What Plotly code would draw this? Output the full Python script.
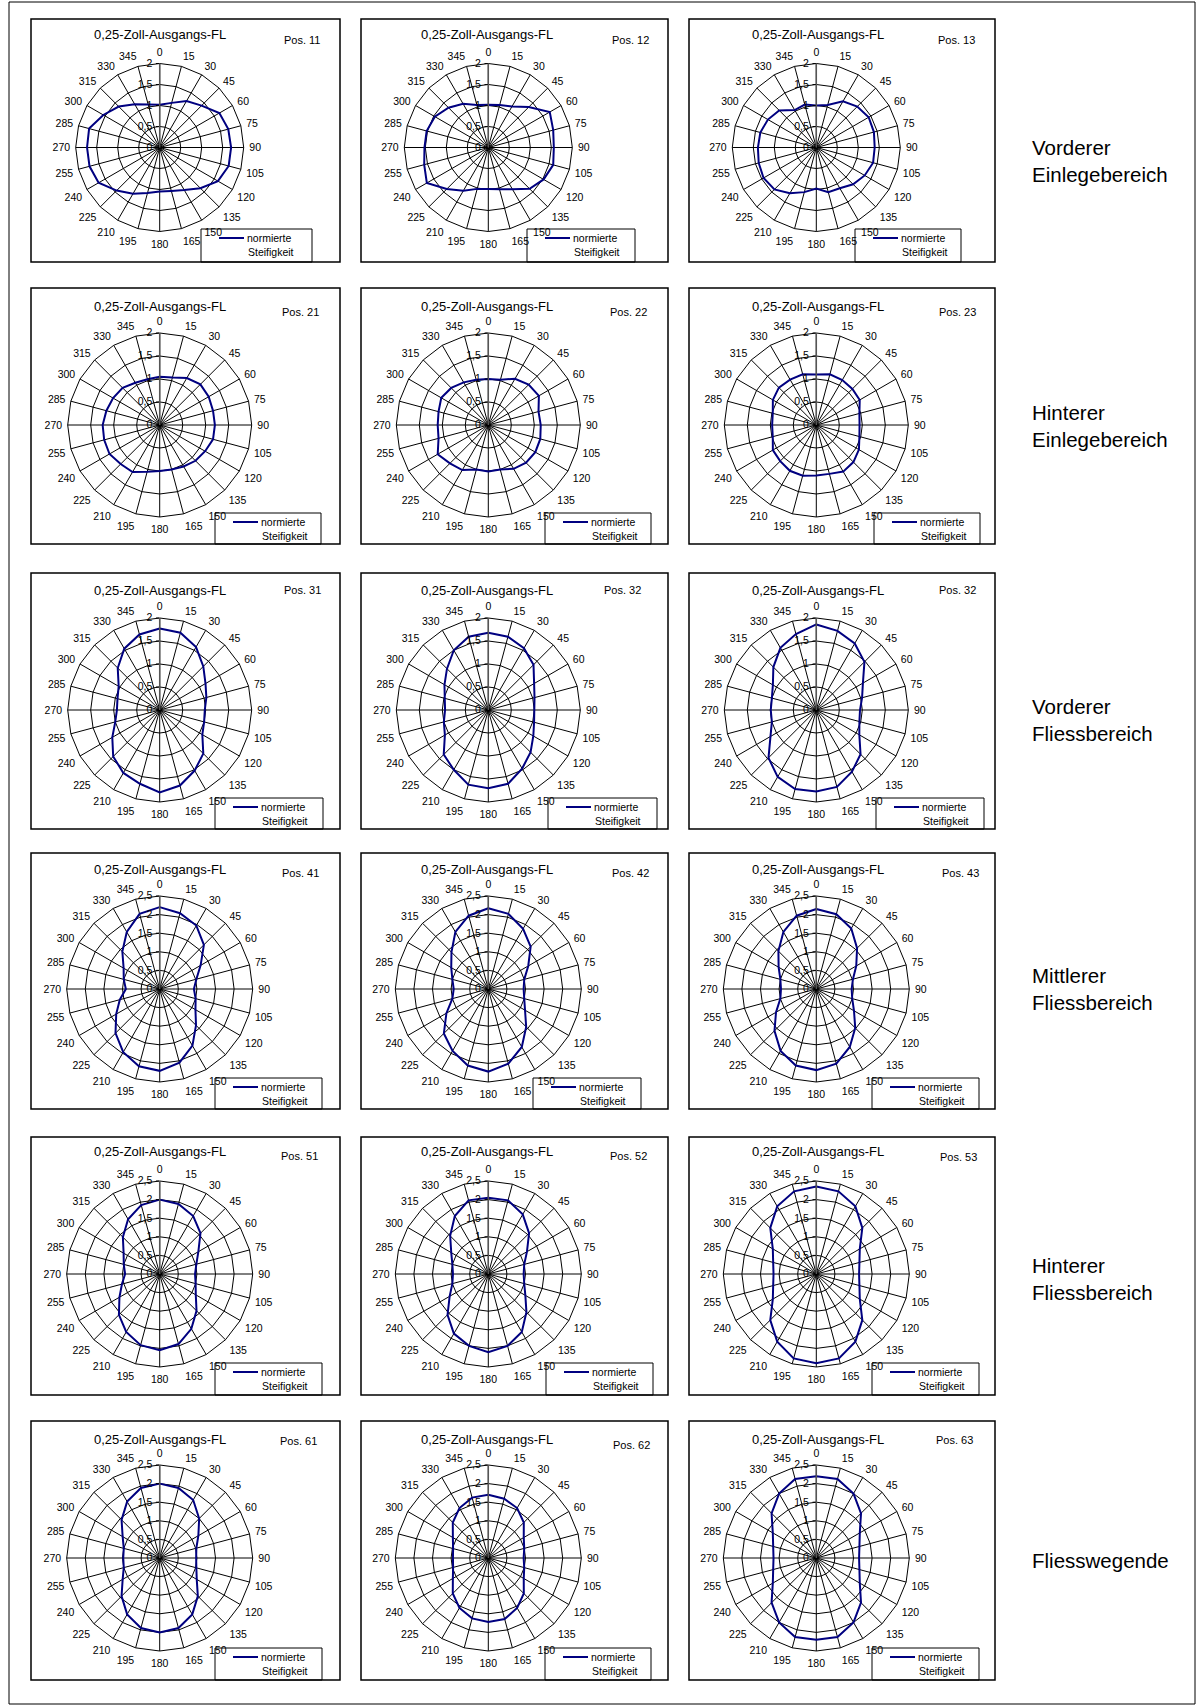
import plotly.graph_objects as go

W, H = 1197, 1706
FONT = "Liberation Sans, Arial, sans-serif"
NAVY = "#000080"

# Measurement directions in degrees (category axis -> polygon grid like a radar chart)
angles = [str(a) for a in range(0, 360, 15)]

# Normalised stiffness per position, values at 0, 15, ..., 345 degrees
pos11 = [1.02, 1.10, 1.28, 1.41, 1.64, 1.69, 1.70, 1.70, 1.60, 1.37, 1.17, 1.07,
         1.05, 1.12, 1.27, 1.45, 1.68, 1.73, 1.73, 1.74, 1.55, 1.38, 1.19, 1.06]
pos12 = [1.02, 1.05, 1.13, 1.36, 1.69, 1.60, 1.56, 1.60, 1.52, 1.39, 1.15, 1.03,
         0.99, 1.02, 1.19, 1.40, 1.69, 1.58, 1.52, 1.52, 1.47, 1.34, 1.20, 1.05]
pos13 = [1.00, 1.05, 1.27, 1.38, 1.44, 1.42, 1.39, 1.40, 1.33, 1.24, 1.12, 1.10,
         0.98, 1.10, 1.26, 1.41, 1.45, 1.42, 1.39, 1.38, 1.33, 1.25, 1.03, 1.06]
pos21 = [1.05, 1.07, 1.18, 1.25, 1.23, 1.20, 1.20, 1.20, 1.14, 1.10, 1.04, 1.00,
         1.00, 1.05, 1.18, 1.20, 1.26, 1.25, 1.24, 1.20, 1.17, 1.14, 1.06, 1.03]
pos22 = [1.00, 1.02, 1.16, 1.24, 1.27, 1.13, 1.14, 1.17, 1.18, 1.16, 1.10, 1.00,
         1.01, 1.00, 1.13, 1.18, 1.27, 1.12, 1.10, 1.12, 1.18, 1.14, 1.07, 1.02]
pos23 = [1.10, 1.14, 1.13, 1.11, 1.09, 0.97, 0.94, 0.97, 1.07, 1.14, 1.17, 1.10,
         1.10, 1.14, 1.15, 1.11, 1.09, 0.98, 0.96, 0.98, 1.09, 1.15, 1.14, 1.14]
pos31 = [1.77, 1.74, 1.58, 1.34, 1.15, 1.05, 0.98, 1.00, 1.07, 1.34, 1.52, 1.70,
         1.79, 1.66, 1.58, 1.43, 1.19, 1.00, 0.93, 0.95, 1.03, 1.29, 1.54, 1.70]
pos32a = [1.68, 1.65, 1.55, 1.39, 1.15, 1.04, 1.00, 1.03, 1.13, 1.30, 1.47, 1.66,
          1.70, 1.68, 1.50, 1.37, 1.09, 1.00, 0.94, 0.98, 1.10, 1.27, 1.50, 1.65]
pos32b = [1.86, 1.78, 1.67, 1.48, 1.17, 1.03, 0.95, 0.97, 1.08, 1.36, 1.55, 1.73,
          1.77, 1.78, 1.68, 1.47, 1.15, 1.00, 0.99, 1.00, 1.09, 1.32, 1.56, 1.71]
pos41 = [2.20, 2.11, 1.97, 1.68, 1.27, 1.02, 0.92, 1.00, 1.11, 1.38, 1.76, 2.05,
         2.20, 2.15, 1.96, 1.68, 1.35, 1.11, 0.91, 1.00, 1.12, 1.42, 1.77, 2.09]
pos42 = [2.17, 2.09, 1.87, 1.61, 1.24, 1.00, 0.95, 1.00, 1.14, 1.44, 1.80, 2.08,
         2.22, 2.13, 1.92, 1.69, 1.30, 1.00, 0.93, 1.00, 1.15, 1.40, 1.77, 2.04]
pos43 = [2.15, 2.08, 1.88, 1.55, 1.24, 1.02, 0.95, 1.00, 1.17, 1.48, 1.80, 2.08,
         2.18, 2.13, 1.92, 1.59, 1.25, 1.00, 0.95, 1.00, 1.17, 1.44, 1.77, 2.04]
pos51 = [2.00, 1.95, 1.80, 1.55, 1.20, 1.02, 0.95, 1.00, 1.12, 1.40, 1.70, 1.95,
         2.05, 1.98, 1.80, 1.55, 1.25, 1.05, 0.93, 1.00, 1.12, 1.40, 1.70, 1.92]
pos52 = [2.05, 2.05, 1.85, 1.55, 1.20, 1.00, 0.95, 1.00, 1.15, 1.45, 1.80, 2.00,
         2.10, 2.00, 1.85, 1.55, 1.20, 1.00, 0.95, 1.00, 1.15, 1.45, 1.80, 2.05]
pos53 = [2.35, 2.30, 2.10, 1.75, 1.35, 1.20, 1.15, 1.20, 1.35, 1.75, 2.10, 2.35,
         2.40, 2.35, 2.10, 1.75, 1.35, 1.20, 1.15, 1.20, 1.35, 1.75, 2.10, 2.30]
pos61 = [2.00, 1.95, 1.80, 1.50, 1.20, 1.02, 0.98, 1.02, 1.15, 1.45, 1.75, 1.95,
         2.00, 1.95, 1.75, 1.45, 1.15, 1.00, 0.98, 1.00, 1.15, 1.45, 1.75, 1.95]
pos62 = [1.70, 1.65, 1.55, 1.35, 1.10, 1.00, 0.95, 1.00, 1.10, 1.35, 1.55, 1.70,
         1.72, 1.68, 1.55, 1.35, 1.10, 0.98, 0.95, 0.98, 1.10, 1.35, 1.55, 1.68]
pos63 = [2.20, 2.20, 2.00, 1.70, 1.35, 1.20, 1.15, 1.20, 1.35, 1.70, 2.00, 2.20,
         2.20, 2.20, 2.00, 1.70, 1.35, 1.20, 1.15, 1.20, 1.35, 1.70, 2.00, 2.20]

series_grid = [
    [pos11, pos12, pos13],
    [pos21, pos22, pos23],
    [pos31, pos32a, pos32b],
    [pos41, pos42, pos43],
    [pos51, pos52, pos53],
    [pos61, pos62, pos63],
]
pos_labels = [
    ["Pos. 11", "Pos. 12", "Pos. 13"],
    ["Pos. 21", "Pos. 22", "Pos. 23"],
    ["Pos. 31", "Pos. 32", "Pos. 32"],
    ["Pos. 41", "Pos. 42", "Pos. 43"],
    ["Pos. 51", "Pos. 52", "Pos. 53"],
    ["Pos. 61", "Pos. 62", "Pos. 63"],
]
row_labels = [
    "Vorderer<br>Einlegebereich",
    "Hinterer<br>Einlegebereich",
    "Vorderer<br>Fliessbereich",
    "Mittlerer<br>Fliessbereich",
    "Hinterer<br>Fliessbereich",
    "Fliesswegende",
]
chart_title = "0,25-Zoll-Ausgangs-FL"
legend_lines = ["normierte", "Steifigkeit"]
radial_max = [2, 2, 2, 2.5, 2.5, 2.5]
radial_ticks = {2: [0, 0.5, 1, 1.5, 2], 2.5: [0, 0.5, 1, 1.5, 2, 2.5]}

# ---- page geometry (pixels) ----
col_box_x = [(31, 340), (361, 668), (689, 995)]
row_box_y = [(19, 262), (288, 544), (573, 829), (853, 1109), (1137, 1395), (1421, 1680)]
col_cx = [159.7, 488.3, 816.3]
row_cy = [147.5, 425, 710, 989, 1274, 1558]
row_radius = [84, 92, 92, 93, 93, 93]
title_x = [160, 487, 818]
title_y = [35, 306, 590, 869, 1151, 1439]
pos_xy = [
    [(302, 40), (630, 40), (956, 40)],
    [(300, 312), (628, 312), (957, 312)],
    [(302, 590), (622, 590), (957, 590)],
    [(300, 873), (630, 873), (960, 873)],
    [(299, 1156), (628, 1156), (958, 1157)],
    [(298, 1441), (631, 1445), (954, 1440)],
]
legend_top = [229, 513, 798, 1078, 1363, 1648]
legend_x = [
    [(201, 312), (527, 635), (855, 961)],
    [(215, 321), (545, 651), (874, 980)],
    [(215, 323), (548, 657), (876, 984)],
    [(215, 322), (533, 641), (872, 979)],
    [(215, 322), (546, 653), (872, 979)],
    [(215, 322), (545, 651), (872, 979)],
]
row_label_y = [161, 426, 720, 989, 1279, 1560]


def px(x):
    return x / W


def py(y):
    return 1 - y / H


def fmt(v):
    return ("%g" % v).replace(".", ",")


fig = go.Figure()
shapes = []
annotations = []
layout_polars = {}

k = 0
for r in range(6):
    for c in range(3):
        k += 1
        name = "polar" if k == 1 else "polar%d" % k
        vals = series_grid[r][c]
        fig.add_trace(go.Scatterpolar(
            r=vals + [vals[0]],
            theta=angles + [angles[0]],
            mode="lines",
            line=dict(color=NAVY, width=2),
            name=" ".join(legend_lines),
            subplot=name,
            showlegend=False,
        ))
        cx, cy, R = col_cx[c], row_cy[r], row_radius[r]
        rmax = radial_max[r]
        ticks = radial_ticks[rmax]
        layout_polars[name] = dict(
            domain=dict(x=[px(cx - R), px(cx + R)], y=[py(cy + R), py(cy - R)]),
            bgcolor="white",
            gridshape="linear",
            angularaxis=dict(
                type="category", categoryarray=angles, rotation=90,
                direction="clockwise", showline=True, linecolor="black",
                linewidth=1, gridcolor="black", gridwidth=1,
                ticks="outside", ticklen=3, tickcolor="rgba(0,0,0,0)",
                tickfont=dict(family=FONT, size=10.5, color="black"),
            ),
            radialaxis=dict(
                range=[0, rmax], tickvals=ticks, ticktext=[fmt(t) for t in ticks],
                angle=90, tickangle=90, side="counterclockwise",
                showline=True, linecolor="#555555",
                linewidth=1.5, gridcolor="black", gridwidth=1,
                ticks="outside", ticklen=3, tickcolor="black",
                tickfont=dict(family=FONT, size=10.5, color="black"),
            ),
        )

        # panel frame
        x0, x1 = col_box_x[c]
        y0, y1 = row_box_y[r]
        shapes.append(dict(type="rect", xref="paper", yref="paper",
                           x0=px(x0), x1=px(x1), y0=py(y1), y1=py(y0),
                           line=dict(color="black", width=1.5)))
        # chart title and position tag
        annotations.append(dict(text=chart_title, x=px(title_x[c]), y=py(title_y[r]),
                                xref="paper", yref="paper", showarrow=False,
                                xanchor="center", yanchor="middle",
                                font=dict(family=FONT, size=13, color="black")))
        pxy = pos_xy[r][c]
        annotations.append(dict(text=pos_labels[r][c], x=px(pxy[0]), y=py(pxy[1]),
                                xref="paper", yref="paper", showarrow=False,
                                xanchor="center", yanchor="middle",
                                font=dict(family=FONT, size=11, color="black")))
        # legend box (kept beneath the angular labels so "150" stays readable)
        lx0, lx1 = legend_x[r][c]
        lt = legend_top[r]
        shapes.append(dict(type="rect", xref="paper", yref="paper", layer="below",
                           x0=px(lx0), x1=px(lx1), y0=py(y1), y1=py(lt),
                           fillcolor="white", line=dict(color="black", width=1)))
        shapes.append(dict(type="line", xref="paper", yref="paper",
                           x0=px(lx0 + 18), x1=px(lx0 + 43), y0=py(lt + 9), y1=py(lt + 9),
                           line=dict(color=NAVY, width=2)))
        annotations.append(dict(text=legend_lines[0], x=px(lx0 + 44), y=py(lt + 9),
                                xref="paper", yref="paper", showarrow=False,
                                xanchor="left", yanchor="middle",
                                font=dict(family=FONT, size=10.5, color="black")))
        annotations.append(dict(text=legend_lines[1], x=px(lx0 + 45), y=py(lt + 23),
                                xref="paper", yref="paper", showarrow=False,
                                xanchor="left", yanchor="middle",
                                font=dict(family=FONT, size=10.5, color="black")))

for r in range(6):
    annotations.append(dict(text=row_labels[r], x=px(1030), y=py(row_label_y[r]),
                            xref="paper", yref="paper", showarrow=False,
                            xanchor="left", yanchor="middle", align="left",
                            font=dict(family=FONT, size=20.5, color="black")))

# page frame
shapes.append(dict(type="rect", xref="paper", yref="paper",
                   x0=px(9), x1=px(1195), y0=py(1704), y1=py(2),
                   line=dict(color="black", width=1)))

fig.update_layout(
    width=W, height=H,
    margin=dict(l=0, r=0, t=0, b=0),
    paper_bgcolor="white",
    plot_bgcolor="white",
    showlegend=False,
    shapes=shapes,
    annotations=annotations,
    **layout_polars,
)

fig.write_html("out.html")
